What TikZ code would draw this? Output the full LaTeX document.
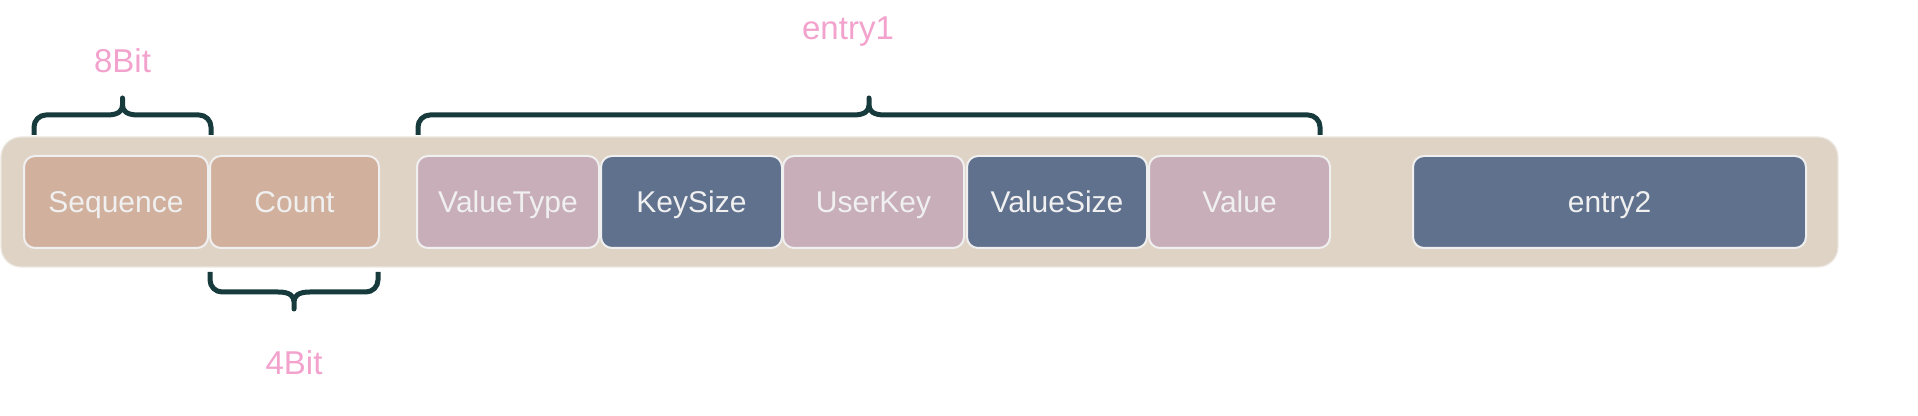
\documentclass[tikz,border=0pt]{standalone}
\usepackage{fontspec}
\setmainfont{Liberation Sans}
\definecolor{outerfill}{HTML}{DFD3C5}
\definecolor{outerline}{HTML}{ECE8E2}
\definecolor{tanfill}{HTML}{D1B19E}
\definecolor{mauvefill}{HTML}{C8AEB8}
\definecolor{slatefill}{HTML}{60718E}
\definecolor{boxtext}{HTML}{F0F0F0}
\definecolor{bracecol}{HTML}{173A3C}
\definecolor{pinklabel}{HTML}{F2A2CC}
\tikzset{
  record/.style={draw=outerline, fill=outerfill, line width=0.6pt, rounded corners=10pt,
    inner sep=0pt, outer sep=0pt, minimum width=918.5pt, minimum height=65pt},
  field/.style={draw=boxtext, line width=1pt, rounded corners=5.5pt, minimum height=46pt,
    inner sep=0pt, outer sep=0pt, text=boxtext, font=\fontsize{15}{18}\selectfont,
    text height=10.8pt, text depth=0pt},
  tanbox/.style={field, fill=tanfill},
  mauvebox/.style={field, fill=mauvefill},
  slatebox/.style={field, fill=slatefill},
  lbl/.style={text=pinklabel, inner sep=0pt, font=\fontsize{16.5}{19}\selectfont,
    text height=11.9pt, text depth=0pt},
  bracestyle/.style={draw=bracecol, line width=2.5pt, line join=round}
}
% #1 left x, #2 right x, #3 base y (ends), #4 direction (-1 up, +1 down)
\newcommand\fieldbrace[4]{%
  \draw[bracestyle] (#1,#3) -- (#1,{#3+#4*8})
    .. controls (#1,{#3+#4*14.6}) and ({#1+5.4},{#3+#4*20}) .. ({#1+12},{#3+#4*20})
    -- ({(#1+#2)/2-16},{#3+#4*20})
    .. controls ({(#1+#2)/2-4},{#3+#4*20}) and ({(#1+#2)/2},{#3+#4*24}) .. ({(#1+#2)/2},{#3+#4*30})
    -- ({(#1+#2)/2},{#3+#4*37}) -- ({(#1+#2)/2},{#3+#4*30})
    .. controls ({(#1+#2)/2},{#3+#4*24}) and ({(#1+#2)/2+4},{#3+#4*20}) .. ({(#1+#2)/2+16},{#3+#4*20})
    -- ({#2-12},{#3+#4*20})
    .. controls ({#2-5.4},{#3+#4*20}) and (#2,{#3+#4*14.6}) .. (#2,{#3+#4*8}) -- (#2,#3);}
\begin{document}
\begin{tikzpicture}[x=0.5pt,y=-0.5pt]
\useasboundingbox (0,0) rectangle (1918,416);
\node[record] (rec) at (919.5,202) {};
\node[tanbox, minimum width=92pt] (seq) at (116,202) {Sequence};
\node[tanbox, minimum width=84.5pt] (cnt) at (294.5,202) {Count};
\node[mauvebox, minimum width=91pt] (vt) at (508,202) {ValueType};
\node[slatebox, minimum width=90.5pt] (ks) at (691.5,202) {KeySize};
\node[mauvebox, minimum width=90.5pt] (uk) at (873.5,202) {UserKey};
\node[slatebox, minimum width=90pt] (vs) at (1057,202) {ValueSize};
\node[mauvebox, minimum width=90.5pt] (val) at (1239.5,202) {Value};
\node[slatebox, minimum width=196.5pt] (e2) at (1609.5,202) {entry2};
\fieldbrace{34}{211}{135}{-1}
\fieldbrace{418}{1320}{135}{-1}
\fieldbrace{210}{378}{272}{1}
\node[lbl] (l8) at (122.5,61) {8Bit};
\node[lbl] (l4) at (294,363) {4Bit};
\node[lbl] (le1) at (848,28) {entry1};
\end{tikzpicture}
\end{document}
